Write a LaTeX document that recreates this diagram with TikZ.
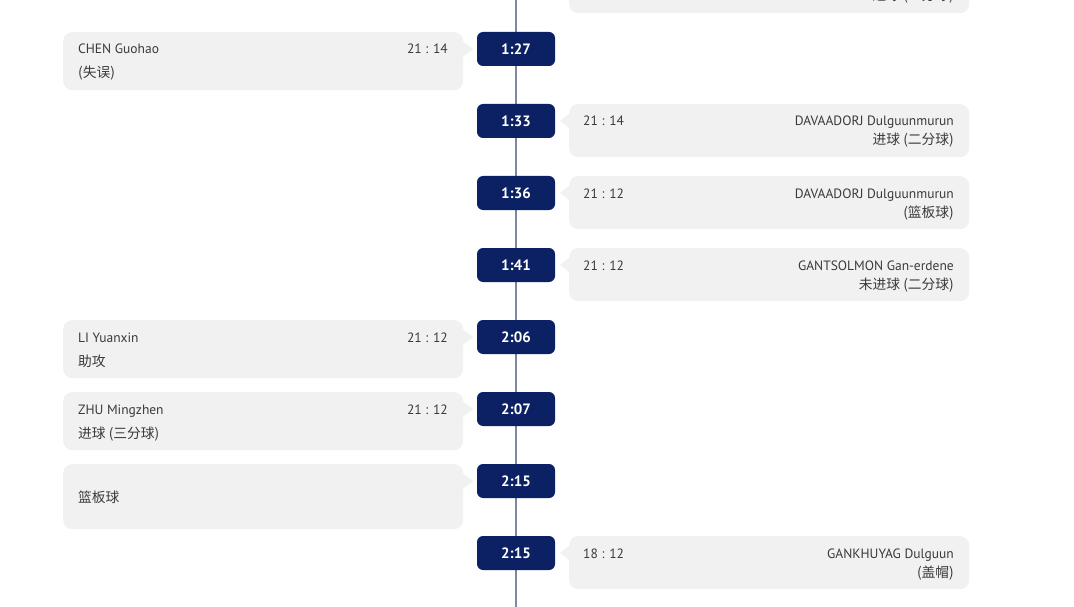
\documentclass[tikz,border=0pt]{standalone}
\usepackage{fontspec}
\setmainfont{PT Sans}
\newfontfamily\cjk[Scale=1.1]{Noto Sans CJK SC}
\definecolor{navy}{HTML}{0B2163}
\definecolor{bubble}{HTML}{F1F1F1}
\definecolor{axis}{HTML}{7E88A6}
\definecolor{ink}{HTML}{3A3A3A}
\tikzset{
  timebox/.style={fill=navy,rounded corners=6pt,minimum width=78pt,minimum height=34pt,
    text=white,font=\fontsize{15}{15}\selectfont\bfseries,inner sep=0pt},
  leftbox/.style={fill=bubble,rounded corners=9pt,minimum width=400pt,anchor=north west,inner sep=0pt},
  rightbox/.style={fill=bubble,rounded corners=9pt,minimum width=400pt,anchor=north west,inner sep=0pt},
  who/.style={text=ink,font=\fontsize{13.5}{13.5}\selectfont,inner sep=0pt},
  what/.style={text=ink,font=\fontsize{12.5}{12.5}\selectfont\cjk,inner sep=0pt},
}
\begin{document}
\begin{tikzpicture}[x=1pt,y=-1pt]
	\useasboundingbox (0,0) rectangle (1074,607);
	\clip (0,0) rectangle (1074,607);
	\coordinate (top) at (516,0);
	\coordinate (bot) at (516,607);
	\draw[axis,line width=1.6pt] (top) -- (bot);

	% event bubbles, left side
	\begin{scope}[every node/.style={leftbox}]
		\node[minimum height=58pt] (e2) at (63,32) {};
		\node[minimum height=58pt] (e6) at (63,320) {};
		\node[minimum height=58pt] (e7) at (63,392) {};
		\node[minimum height=65pt] (e8) at (63,464) {};
	\end{scope}
	% event bubbles, right side
	\begin{scope}[every node/.style={rightbox}]
		\node[minimum height=53pt] (e1) at (569,-40) {};
		\node[minimum height=53pt] (e3) at (569,104) {};
		\node[minimum height=53pt] (e4) at (569,176) {};
		\node[minimum height=53pt] (e5) at (569,248) {};
		\node[minimum height=53pt] (e9) at (569,536) {};
	\end{scope}

	% clock
	\begin{scope}[every node/.style={timebox}]
		\node (t2) at (516,49) {1:27};
		\node (t3) at (516,121) {1:33};
		\node (t4) at (516,193) {1:36};
		\node (t5) at (516,265) {1:41};
		\node (t6) at (516,337) {2:06};
		\node (t7) at (516,409) {2:07};
		\node (t8) at (516,481) {2:15};
		\node (t9) at (516,553) {2:15};
	\end{scope}

	% pointers
	\fill[bubble] (e2.east |- t2) ++(-1,-8) -- ++(11,8) -- ++(-11,8) -- cycle;
	\fill[bubble] (e6.east |- t6) ++(-1,-8) -- ++(11,8) -- ++(-11,8) -- cycle;
	\fill[bubble] (e7.east |- t7) ++(-1,-8) -- ++(11,8) -- ++(-11,8) -- cycle;
	\fill[bubble] (e8.east |- t8) ++(-1,-8) -- ++(11,8) -- ++(-11,8) -- cycle;
	\fill[bubble] (e3.west |- t3) ++(1,-8) -- ++(-10,8) -- ++(10,8) -- cycle;
	\fill[bubble] (e4.west |- t4) ++(1,-8) -- ++(-10,8) -- ++(10,8) -- cycle;
	\fill[bubble] (e5.west |- t5) ++(1,-8) -- ++(-10,8) -- ++(10,8) -- cycle;
	\fill[bubble] (e9.west |- t9) ++(1,-8) -- ++(-10,8) -- ++(10,8) -- cycle;

	% left texts
	\node[who,anchor=base west] (n2) at (78,54) {CHEN Guohao};
	\node[who,anchor=base east] (s2) at (448,54) {21 : 14};
	\node[what,anchor=base west] (a2) at (78,78) {(失误)};
	\node[who,anchor=base west] (n6) at (78,342) {LI Yuanxin};
	\node[who,anchor=base east] (s6) at (448,342) {21 : 12};
	\node[what,anchor=base west] (a6) at (78,366) {助攻};
	\node[who,anchor=base west] (n7) at (78,414) {ZHU Mingzhen};
	\node[who,anchor=base east] (s7) at (448,414) {21 : 12};
	\node[what,anchor=base west] (a7) at (78,438) {进球 (三分球)};
	\node[what,anchor=base west] (a8) at (78,502) {篮板球};

	% right texts
	\node[what,anchor=base east] (a1) at (954,1) {进球 (二分球)};
	\node[who,anchor=base west] (s3) at (583,126) {21 : 14};
	\node[who,anchor=base east] (n3) at (954,126) {DAVAADORJ Dulguunmurun};
	\node[what,anchor=base east] (a3) at (954,145) {进球 (二分球)};
	\node[who,anchor=base west] (s4) at (583,198) {21 : 12};
	\node[who,anchor=base east] (n4) at (954,198) {DAVAADORJ Dulguunmurun};
	\node[what,anchor=base east] (a4) at (954,217) {(篮板球)};
	\node[who,anchor=base west] (s5) at (583,270) {21 : 12};
	\node[who,anchor=base east] (n5) at (954,270) {GANTSOLMON Gan-erdene};
	\node[what,anchor=base east] (a5) at (954,289) {未进球 (二分球)};
	\node[who,anchor=base west] (s9) at (583,558) {18 : 12};
	\node[who,anchor=base east] (n9) at (954,558) {GANKHUYAG Dulguun};
	\node[what,anchor=base east] (a9) at (954,577) {(盖帽)};
\end{tikzpicture}
\end{document}
